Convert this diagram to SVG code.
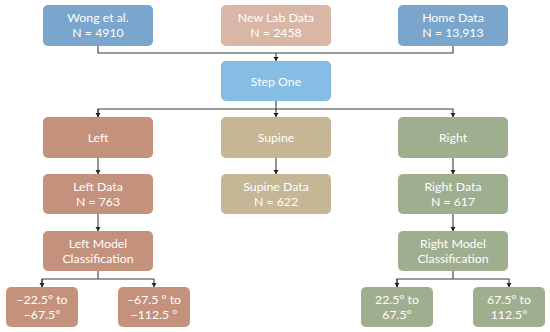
<svg xmlns="http://www.w3.org/2000/svg" width="550" height="332" viewBox="0 0 550 332">
<style>
.box{stroke:none}
.t{font-family:Lato,"Open Sans","Liberation Sans",sans-serif;font-size:12.3px;fill:#ffffff;text-anchor:middle}
.blue{fill:#7aa5cc}
.lab{fill:#d9b6a6}
.step{fill:#86bde5}
.left{fill:#c4917c}
.sup{fill:#c5b696}
.right{fill:#9eae8e}
.ln{fill:none;stroke:#3a3a3a;stroke-width:1.1}
</style>
<defs>
<marker id="ad" markerUnits="userSpaceOnUse" markerWidth="6" markerHeight="6" refX="3" refY="5.5" viewBox="0 0 6 6">
<path d="M0.5,1.5 L5.5,1.5 L3,5.8 Z" fill="#222"/>
</marker>
</defs>
<g id="connectors">
<path class="ln" d="M98,46 V53 H453 V46"/>
<path class="ln" d="M276,53 V61" marker-end="url(#ad)"/>
<path class="ln" d="M276,101 V109"/>
<path class="ln" d="M98,117 V109 H453 V117" marker-end="url(#ad)"/>
<path class="ln" d="M98,109 V117" marker-end="url(#ad)"/>
<path class="ln" d="M276,109 V117" marker-end="url(#ad)"/>
<path class="ln" d="M98,158 V174" marker-end="url(#ad)"/>
<path class="ln" d="M276,158 V174" marker-end="url(#ad)"/>
<path class="ln" d="M453,158 V174" marker-end="url(#ad)"/>
<path class="ln" d="M98,214 V231" marker-end="url(#ad)"/>
<path class="ln" d="M453,214 V231" marker-end="url(#ad)"/>
<path class="ln" d="M98,271 V279"/>
<path class="ln" d="M42,287 V279 H154 V287" marker-end="url(#ad)"/>
<path class="ln" d="M42,279 V287" marker-end="url(#ad)"/>
<path class="ln" d="M453,271 V279"/>
<path class="ln" d="M397,287 V279 H509 V287" marker-end="url(#ad)"/>
<path class="ln" d="M397,279 V287" marker-end="url(#ad)"/>
</g>
<g id="wong"><rect class="box blue" x="43" y="5" width="110" height="41" rx="5"/><text class="t" x="98" y="22">Wong et al.</text><text class="t" x="98" y="37">N = 4910</text></g>
<g id="newlab"><rect class="box lab" x="221" y="5" width="110" height="41" rx="5"/><text class="t" x="276" y="22">New Lab Data</text><text class="t" x="276" y="37">N = 2458</text></g>
<g id="home"><rect class="box blue" x="398" y="5" width="110" height="41" rx="5"/><text class="t" x="453" y="22">Home Data</text><text class="t" x="453" y="37">N = 13,913</text></g>
<g id="stepone"><rect class="box step" x="221" y="61" width="110" height="40" rx="5"/><text class="t" x="276" y="85.5">Step One</text></g>
<g id="left"><rect class="box left" x="43" y="117" width="110" height="41" rx="5"/><text class="t" x="98" y="142">Left</text></g>
<g id="supine"><rect class="box sup" x="221" y="117" width="110" height="41" rx="5"/><text class="t" x="276" y="142">Supine</text></g>
<g id="right"><rect class="box right" x="398" y="117" width="110" height="41" rx="5"/><text class="t" x="453" y="142">Right</text></g>
<g id="leftdata"><rect class="box left" x="43" y="174" width="110" height="40" rx="5"/><text class="t" x="98" y="191">Left Data</text><text class="t" x="98" y="205.5">N = 763</text></g>
<g id="supinedata"><rect class="box sup" x="221" y="174" width="110" height="40" rx="5"/><text class="t" x="276" y="191">Supine Data</text><text class="t" x="276" y="205.5">N = 622</text></g>
<g id="rightdata"><rect class="box right" x="398" y="174" width="110" height="40" rx="5"/><text class="t" x="453" y="191">Right Data</text><text class="t" x="453" y="205.5">N = 617</text></g>
<g id="leftmodel"><rect class="box left" x="43" y="231" width="110" height="40" rx="5"/><text class="t" x="98" y="248">Left Model</text><text class="t" x="98" y="262.5">Classification</text></g>
<g id="rightmodel"><rect class="box right" x="398" y="231" width="110" height="40" rx="5"/><text class="t" x="453" y="248">Right Model</text><text class="t" x="453" y="262.5">Classification</text></g>
<g id="l1"><rect class="box left" x="6" y="287" width="72" height="40" rx="5"/><text class="t" x="42" y="304">−22.5° to</text><text class="t" x="42" y="318.5">−67.5°</text></g>
<g id="l2"><rect class="box left" x="118" y="287" width="72" height="40" rx="5"/><text class="t" x="154" y="304">−67.5 ° to</text><text class="t" x="154" y="318.5">−112.5 °</text></g>
<g id="r1"><rect class="box right" x="361" y="287" width="72" height="40" rx="5"/><text class="t" x="397" y="304">22.5° to</text><text class="t" x="397" y="318.5">67.5°</text></g>
<g id="r2"><rect class="box right" x="473" y="287" width="72" height="40" rx="5"/><text class="t" x="509" y="304">67.5° to</text><text class="t" x="509" y="318.5">112.5°</text></g>
</svg>
